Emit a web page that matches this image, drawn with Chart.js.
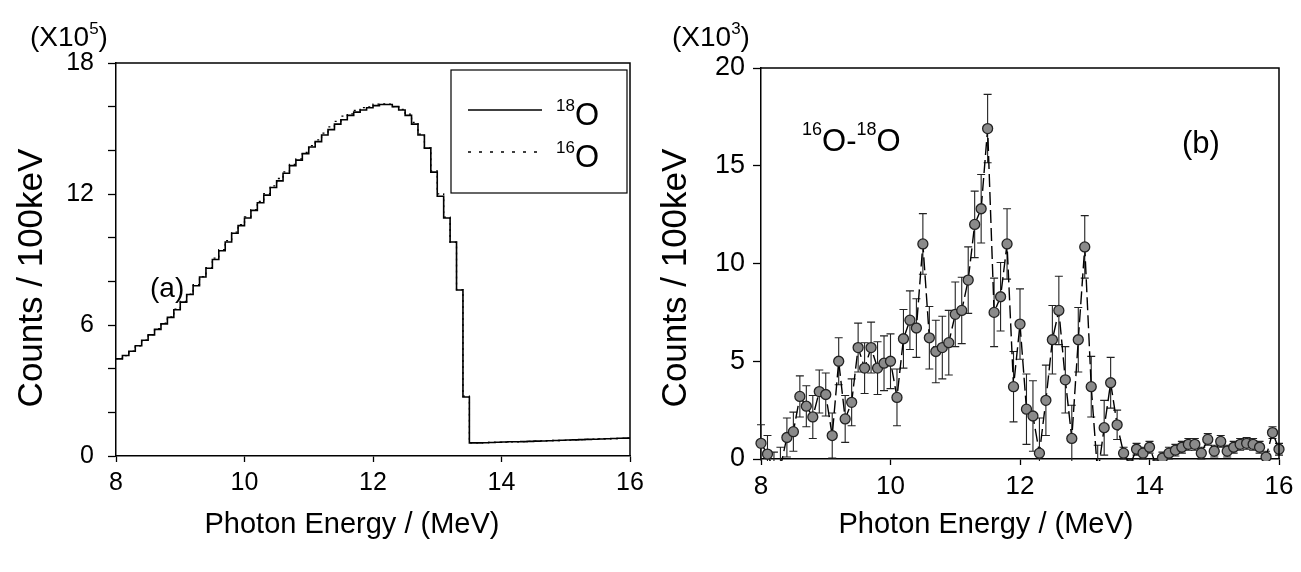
<!DOCTYPE html>
<html>
<head>
<meta charset="utf-8">
<script src="https://cdn.jsdelivr.net/npm/chart.js@4.4.1/dist/chart.umd.min.js"></script>
<style>
    body { margin: 0; background: #fff; }
    #wrap { position: relative; width: 1301px; height: 572px; }
    .panel { position: absolute; top: 0; }
    #left { left: 0; }
    #right { left: 650px; }
</style>
</head>
<body>
<div id="wrap">
    <div class="panel" id="left"><canvas id="chartA" width="650" height="572"></canvas></div>
    <div class="panel" id="right"><canvas id="chartB" width="651" height="572"></canvas></div>
</div>
<script>
// (a) spectra, bin start energies (MeV), counts in units of 1e5 per 100 keV
const binEnergy = [8.0, 8.1, 8.2, 8.3, 8.4, 8.5, 8.6, 8.7, 8.8, 8.9,
    9.0, 9.1, 9.2, 9.3, 9.4, 9.5, 9.6, 9.7, 9.8, 9.9,
    10.0, 10.1, 10.2, 10.3, 10.4, 10.5, 10.6, 10.7, 10.8, 10.9,
    11.0, 11.1, 11.2, 11.3, 11.4, 11.5, 11.6, 11.7, 11.8, 11.9,
    12.0, 12.1, 12.2, 12.3, 12.4, 12.5, 12.6, 12.7, 12.8, 12.9,
    13.0, 13.1, 13.2, 13.3, 13.4, 13.5, 13.6, 13.7, 13.8, 13.9,
    14.0, 14.1, 14.2, 14.3, 14.4, 14.5, 14.6, 14.7, 14.8, 14.9,
    15.0, 15.1, 15.2, 15.3, 15.4, 15.5, 15.6, 15.7, 15.8, 15.9, 16.0];
const counts18O = [4.45, 4.6, 4.8, 5.05, 5.3, 5.55, 5.8, 6.05, 6.35, 6.7,
    7.05, 7.4, 7.8, 8.2, 8.6, 9.0, 9.4, 9.8, 10.2, 10.55,
    10.9, 11.25, 11.6, 11.95, 12.3, 12.6, 12.95, 13.3, 13.55, 13.85,
    14.15, 14.4, 14.7, 14.95, 15.2, 15.4, 15.6, 15.75, 15.85, 15.95,
    16.05, 16.1, 16.1, 16.0, 15.85, 15.6, 15.2, 14.7, 14.1, 13.0,
    11.9, 10.9, 9.8, 7.6, 2.7, 0.6, 0.6, 0.61, 0.62, 0.63,
    0.64, 0.65, 0.65, 0.66, 0.67, 0.68, 0.69, 0.7, 0.71, 0.72,
    0.73, 0.74, 0.75, 0.76, 0.77, 0.78, 0.79, 0.8, 0.81, 0.82, 0.83];
const counts16O = [4.46, 4.6, 4.8, 5.05, 5.31, 5.56, 5.83, 6.08, 6.37, 6.73,
    7.08, 7.41, 7.85, 8.22, 8.63, 9.06, 9.45, 9.86, 10.25, 10.6,
    10.95, 11.28, 11.66, 12.02, 12.37, 12.71, 13.01, 13.36, 13.61, 13.91,
    14.22, 14.48, 14.79, 15.07, 15.33, 15.57, 15.67, 15.83, 15.96, 15.99,
    16.12, 16.13, 16.12, 16.0, 15.88, 15.66, 15.28, 14.74, 14.11, 13.06,
    12.01, 10.94, 9.79, 7.62, 2.74, 0.6, 0.6, 0.61, 0.62, 0.63,
    0.64, 0.65, 0.65, 0.66, 0.67, 0.68, 0.69, 0.7, 0.71, 0.72,
    0.73, 0.74, 0.75, 0.76, 0.77, 0.78, 0.79, 0.8, 0.81, 0.82, 0.83];

// (b) difference 16O-18O, units of 1e3 per 100 keV
const diffEnergy = binEnergy;
const diffCounts = [0.8, 0.25, -0.6, -0.4, 1.1, 1.4, 3.2, 2.7, 2.15, 3.45,
    3.3, 1.2, 5.0, 2.05, 2.9, 5.7, 4.65, 5.7, 4.65, 4.9,
    5.0, 3.15, 6.15, 7.1, 6.7, 11.0, 6.2, 5.5, 5.7, 5.95,
    7.4, 7.6, 9.15, 12.0, 12.8, 16.9, 7.5, 8.3, 11.0, 3.7,
    6.9, 2.55, 2.2, 0.3, 3.0, 6.1, 7.6, 4.05, 1.05, 6.1,
    10.85, 3.7, -0.8, 1.6, 3.9, 1.75, 0.3, -0.3, 0.5, 0.3,
    0.6, -0.3, 0.05, 0.3, 0.45, 0.6, 0.75, 0.75, 0.3, 1.0,
    0.4, 0.9, 0.4, 0.6, 0.75, 0.8, 0.75, 0.6, 0.1, 1.35, 0.5];
const diffErrors = [0.95, 0.95, 0.95, 1.0, 1.0, 1.0, 1.05, 1.05, 1.1, 1.1,
    1.1, 1.15, 1.2, 1.2, 1.2, 1.25, 1.3, 1.3, 1.35, 1.4,
    1.4, 1.45, 1.5, 1.5, 1.5, 1.55, 1.6, 1.6, 1.6, 1.65,
    1.65, 1.7, 1.7, 1.7, 1.75, 1.75, 1.75, 1.75, 1.8, 1.8,
    1.8, 1.8, 1.8, 1.8, 1.8, 1.75, 1.75, 1.7, 1.7, 1.65,
    1.6, 1.55, 1.5, 1.4, 1.3, 0.75, 0.3, 0.3, 0.3, 0.3,
    0.3, 0.3, 0.3, 0.3, 0.3, 0.3, 0.3, 0.3, 0.3, 0.3,
    0.3, 0.3, 0.3, 0.3, 0.3, 0.3, 0.3, 0.3, 0.3, 0.3, 0.3];

const FONT = "'Liberation Sans', Arial, sans-serif";
Chart.defaults.font.family = FONT;
Chart.defaults.color = '#000';

// draw text runs left to right, with raised superscripts
function drawRich(ctx, x, y, runs) {
    ctx.textAlign = 'left';
    ctx.textBaseline = 'alphabetic';
    ctx.fillStyle = '#000';
    runs.forEach(r => {
        ctx.font = r.size + 'px ' + FONT;
        ctx.fillText(r.t, x, y - (r.rise || 0));
        x += ctx.measureText(r.t).width;
    });
}

function drawTitles(ctx, xCenter, yTitleX) {
    ctx.fillStyle = '#000';
    ctx.textBaseline = 'alphabetic';
    ctx.textAlign = 'center';
    ctx.font = '29px ' + FONT;
    ctx.fillText('Photon Energy / (MeV)', xCenter, 533);
    ctx.save();
    ctx.translate(yTitleX, 278);
    ctx.rotate(-Math.PI / 2);
    ctx.font = '35px ' + FONT;
    ctx.fillText('Counts / 100keV', 0, 0);
    ctx.restore();
}

// top and right edges of the plot box
const framePlugin = {
    id: 'frame',
    afterDraw(chart) {
        const { ctx, chartArea: a } = chart;
        ctx.save();
        ctx.strokeStyle = '#000';
        ctx.lineWidth = 1.5;
        ctx.beginPath();
        ctx.moveTo(a.left, a.top);
        ctx.lineTo(a.right, a.top);
        ctx.lineTo(a.right, a.bottom);
        ctx.stroke();
        ctx.restore();
    }
};

const textA = {
    id: 'textA',
    afterDraw(chart) {
        const ctx = chart.ctx;
        ctx.save();
        drawTitles(ctx, 352, 42);
        drawRich(ctx, 30, 46, [{ t: '(X10', size: 28 }, { t: '5', size: 17, rise: 12 }, { t: ')', size: 28 }]);
        drawRich(ctx, 150, 297, [{ t: '(a)', size: 28 }]);

        // legend box
        ctx.strokeStyle = '#000';
        ctx.lineWidth = 1.2;
        ctx.strokeRect(451, 70, 176, 123);
        ctx.lineWidth = 1.6;
        ctx.beginPath();
        ctx.moveTo(468, 110);
        ctx.lineTo(542, 110);
        ctx.stroke();
        ctx.setLineDash([3, 8]);
        ctx.lineWidth = 1.4;
        ctx.beginPath();
        ctx.moveTo(468, 152);
        ctx.lineTo(538, 152);
        ctx.stroke();
        ctx.setLineDash([]);
        drawRich(ctx, 556, 125, [{ t: '18', size: 17, rise: 14 }, { t: 'O', size: 31 }]);
        drawRich(ctx, 556, 167, [{ t: '16', size: 17, rise: 14 }, { t: 'O', size: 31 }]);
        ctx.restore();
    }
};

const textB = {
    id: 'textB',
    afterDraw(chart) {
        const ctx = chart.ctx;
        ctx.save();
        drawTitles(ctx, 336, 36);
        drawRich(ctx, 22, 46, [{ t: '(X10', size: 28 }, { t: '3', size: 17, rise: 12 }, { t: ')', size: 28 }]);
        drawRich(ctx, 152, 151, [{ t: '16', size: 18, rise: 16 }, { t: 'O-', size: 31 },
            { t: '18', size: 18, rise: 16 }, { t: 'O', size: 31 }]);
        drawRich(ctx, 532, 153, [{ t: '(b)', size: 31 }]);
        ctx.restore();
    }
};

// vertical error bars with caps, drawn under the markers
const errorBars = {
    id: 'errorBars',
    beforeDatasetsDraw(chart) {
        const { ctx, chartArea: a, scales: { x, y } } = chart;
        ctx.save();
        ctx.beginPath();
        ctx.rect(a.left - 6, a.top, a.right - a.left + 12, a.bottom - a.top + 2);
        ctx.clip();
        ctx.strokeStyle = '#222';
        ctx.lineWidth = 1.1;
        diffEnergy.forEach((e, i) => {
            const px = x.getPixelForValue(e);
            const hi = y.getPixelForValue(diffCounts[i] + diffErrors[i]);
            const lo = y.getPixelForValue(diffCounts[i] - diffErrors[i]);
            ctx.beginPath();
            ctx.moveTo(px, hi);
            ctx.lineTo(px, lo);
            ctx.moveTo(px - 4, hi);
            ctx.lineTo(px + 4, hi);
            ctx.moveTo(px - 4, lo);
            ctx.lineTo(px + 4, lo);
            ctx.stroke();
        });
        ctx.restore();
    }
};

function axisStyle(tickLen) {
    return {
        grid: { drawOnChartArea: false, drawTicks: true, tickLength: tickLen, color: '#000', tickWidth: 1.3 },
        border: { display: true, color: '#000', width: 1.5 }
    };
}

new Chart(document.getElementById('chartA'), {
    type: 'line',
    data: {
        datasets: [
            {
                label: '16O',
                data: binEnergy.map((e, i) => ({ x: e, y: counts16O[i] })),
                stepped: 'before',
                borderColor: '#000',
                borderWidth: 1.3,
                borderDash: [2, 4],
                pointRadius: 0
            },
            {
                label: '18O',
                data: binEnergy.map((e, i) => ({ x: e, y: counts18O[i] })),
                stepped: 'before',
                borderColor: '#000',
                borderWidth: 1.6,
                pointRadius: 0
            }
        ]
    },
    options: {
        responsive: false,
        animation: false,
        layout: { padding: { left: 0, right: 20, top: 63, bottom: 0 } },
        plugins: { legend: { display: false }, tooltip: { enabled: false } },
        scales: {
            x: {
                type: 'linear', min: 8, max: 16,
                ticks: { stepSize: 2, font: { size: 25 }, padding: 6 },
                ...axisStyle(6),
                afterFit: s => { s.height = 572 - 456; }
            },
            y: {
                min: 0, max: 18,
                ticks: { stepSize: 2, autoSkip: false, font: { size: 25 }, padding: 14,
                    callback: v => (v % 6 === 0 ? v : '') },
                ...axisStyle(8),
                afterFit: s => { s.width = 116; }
            }
        }
    },
    plugins: [framePlugin, textA]
});

new Chart(document.getElementById('chartB'), {
    type: 'line',
    data: {
        datasets: [{
            label: '16O-18O',
            data: diffEnergy.map((e, i) => ({ x: e, y: diffCounts[i] })),
            borderColor: '#000',
            borderWidth: 1.4,
            borderDash: [13, 5],
            pointRadius: 5,
            pointBackgroundColor: '#8a8a8a',
            pointBorderColor: '#222',
            pointBorderWidth: 1.3,
            clip: { left: 6, right: 6, top: 0, bottom: 2 }
        }]
    },
    options: {
        responsive: false,
        animation: false,
        layout: { padding: { left: 0, right: 22, top: 68, bottom: 0 } },
        plugins: { legend: { display: false }, tooltip: { enabled: false } },
        scales: {
            x: {
                type: 'linear', min: 8, max: 16,
                ticks: { stepSize: 2, font: { size: 26 }, padding: 6 },
                ...axisStyle(6),
                afterFit: s => { s.height = 572 - 459; }
            },
            y: {
                min: 0, max: 20,
                ticks: { stepSize: 5, autoSkip: false, font: { size: 27 }, padding: 8 },
                ...axisStyle(8),
                afterFit: s => { s.width = 111; }
            }
        }
    },
    plugins: [framePlugin, errorBars, textB]
});
</script>
</body>
</html>
